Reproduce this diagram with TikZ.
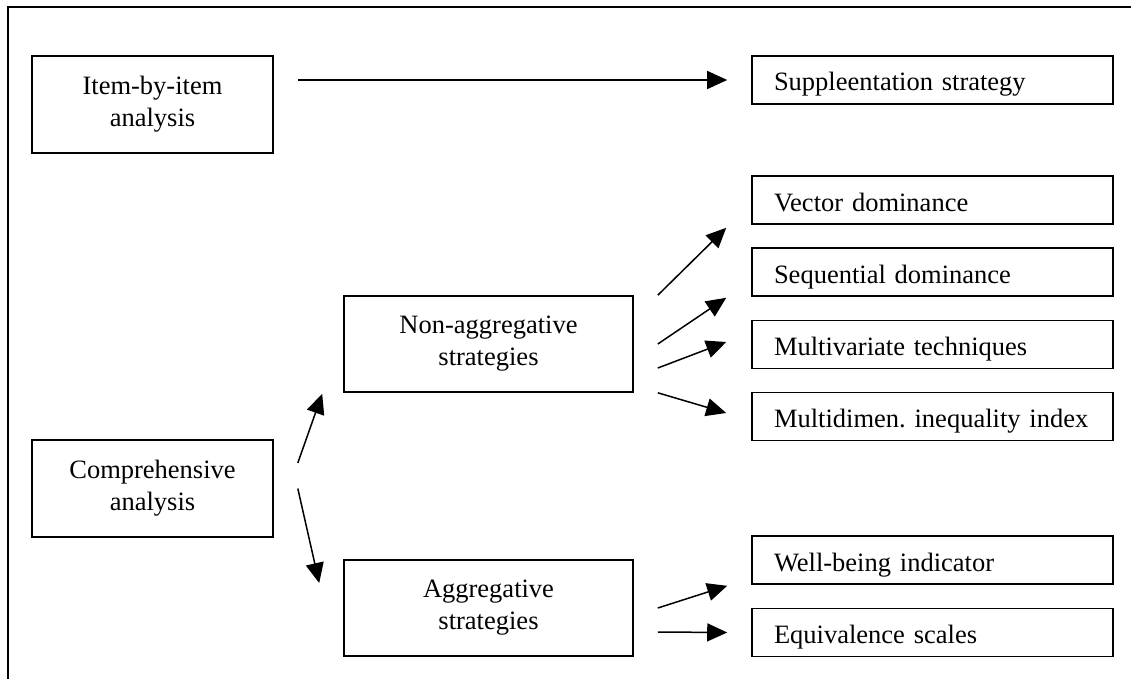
\documentclass[tikz,border=0pt]{standalone}
\usepackage{fontspec}
\setmainfont{Liberation Serif}
\usetikzlibrary{arrows.meta,calc}
\begin{document}
\begin{tikzpicture}[x=1pt,y=-1pt,
  font=\fontsize{26.5}{32}\selectfont\frenchspacing,
  box/.style={draw,line width=1.6pt,inner sep=0pt,align=center},
  leftbox/.style={box,minimum width=241pt,minimum height=97pt},
  midbox/.style={box,minimum width=289pt,minimum height=96pt},
  rbox/.style={box,minimum width=361pt,minimum height=48pt,inner xsep=22pt,
    text width=317pt,align=left,text height=24pt,text depth=2pt},
  arr/.style={line width=1.5pt,-{Triangle[length=20pt,width=18pt]}},
  frame/.style={line width=1.8pt}]
\useasboundingbox (0,0) rectangle (1131,679);
\coordinate (fbl) at (8,679);
\coordinate (ftl) at (8,7);
\coordinate (ftr) at (1131,7);
\draw[frame] (fbl) -- (ftl) -- (ftr);

\node[leftbox] (item) at (152.5,104.5) {Item-by-item\\analysis};
\node[leftbox] (comp) at (152.5,488.5) {Comprehensive\\analysis};
\node[midbox] (nonagg) at (488.5,344) {Non-aggregative\\strategies};
\node[midbox] (agg) at (488.5,608) {Aggregative\\strategies};

\node[rbox] (supp) at (932.5,80) {Suppleentation strategy};
\node[rbox] (vec) at (932.5,200) {Vector dominance};
\node[rbox] (seq) at (932.5,272) {Sequential dominance};
\node[rbox] (mult) at (932.5,344.5) {Multivariate techniques};
\node[rbox] (mdi) at (932.5,416.5) {\mbox{Multidimen. inequality index}};
\node[rbox] (wb) at (932.5,560) {Well-being indicator};
\node[rbox] (eq) at (932.5,632.5) {Equivalence scales};

\draw[arr] ($(item.east |- supp.west)+(24,0)$) -- ($(supp.west)+(-24,0)$);
\draw[arr] ($(comp.east)+(24,-25.5)$) -- ($(nonagg.south west)+(-21,1)$);
\draw[arr] ($(comp.east)+(24,0)$) -- ($(agg.west)+(-24,-25)$);
\draw[arr] ($(nonagg.north east)+(24,0)$) -- ($(vec.south west)+(-25,3)$);
\draw[arr] ($(nonagg.east)+(24,0)$) -- ($(seq.south west)+(-25,1)$);
\draw[arr] ($(nonagg.east)+(24,24)$) -- ($(mult.west)+(-25,-2.5)$);
\draw[arr] ($(nonagg.south east)+(24,0)$) -- ($(mdi.west)+(-25,-3.5)$);
\draw[arr] ($(agg.east)+(24,0)$) -- ($(wb.south west)+(-24,1)$);
\draw[arr] ($(agg.east)+(24,24)$) -- ($(eq.west)+(-24,0)$);
\end{tikzpicture}
\end{document}
